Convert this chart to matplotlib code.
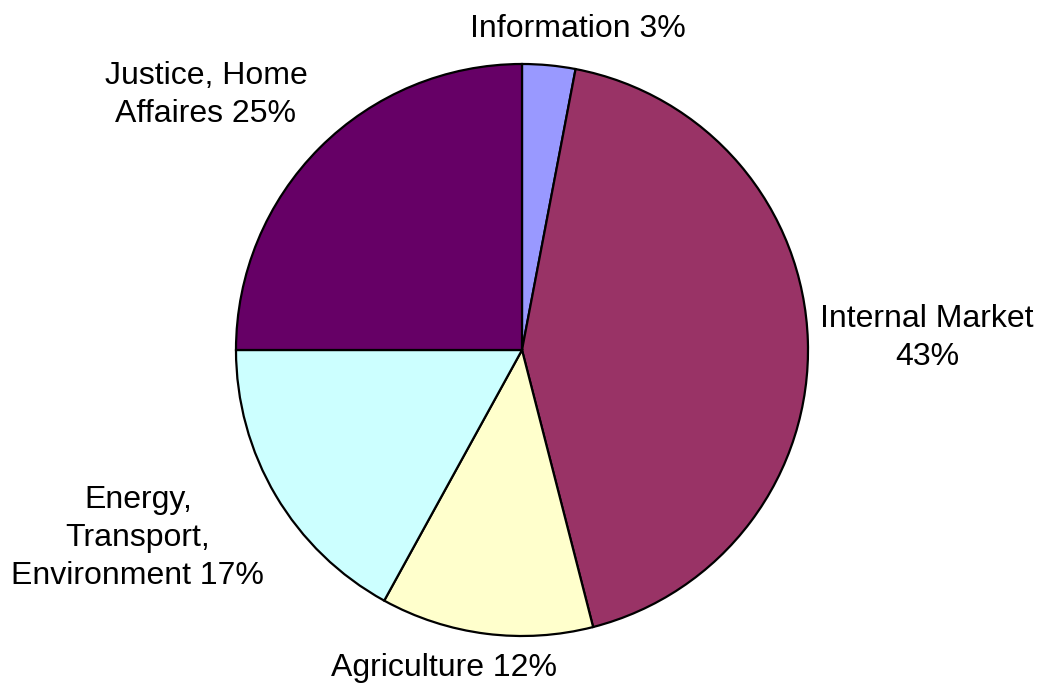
import matplotlib
matplotlib.use("Agg")
import matplotlib.pyplot as plt

categories = ["Information", "Internal Market", "Agriculture",
              "Energy, Transport, Environment", "Justice, Home Affaires"]
values = [3, 43, 12, 17, 25]
label_texts = ["Information 3%", "Internal Market\n43%", "Agriculture 12%",
               "Energy,\nTransport,\nEnvironment 17%", "Justice, Home\nAffaires 25%"]
colors = ["#9999FF", "#993366", "#FFFFCC", "#CCFFFF", "#660066"]

# label positions (in pie-radius units), layout only
label_pos = [(0.194, 1.124), (1.416, 0.042), (-0.274, -1.112),
             (-1.343, -0.657), (-1.105, 0.893)]

plt.rcParams['font.family'] = ['Liberation Sans', 'DejaVu Sans']

fig = plt.figure(figsize=(10.42, 6.86), dpi=100)
ax = fig.add_axes([0, 0, 1, 1])
ax.pie(values, colors=colors, startangle=90, counterclock=False, radius=1,
       wedgeprops=dict(edgecolor='black', linewidth=1.6))
ax.set_xlim(-522 / 286, (1042 - 522) / 286)
ax.set_ylim(-336 / 286, 350 / 286)
ax.set_aspect('equal')
ax.axis('off')

for txt, (x, y) in zip(label_texts, label_pos):
    ax.text(x, y, txt, ha='center', va='center', fontsize=23, color='black',
            multialignment='center', linespacing=1.35)

fig.savefig("out.png", dpi=100)
